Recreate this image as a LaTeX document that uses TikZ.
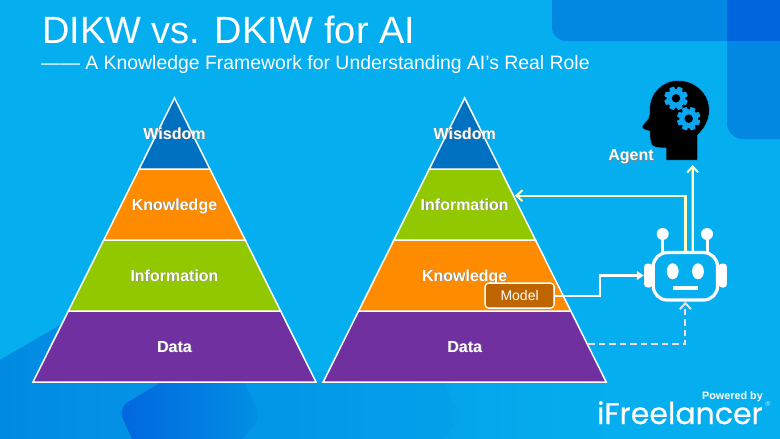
\documentclass[tikz,border=0pt]{standalone}
\usepackage{fontspec}
\setmainfont{Liberation Sans}
\newfontfamily\logofont[FakeBold=0.5]{Poppins}
\usetikzlibrary{arrows.meta,calc}
\definecolor{bgc}{HTML}{05AEEE}
\definecolor{panel}{HTML}{0288E2}
\definecolor{panelx}{HTML}{0066DE}
\definecolor{wis}{HTML}{0070C0}
\definecolor{kno}{HTML}{FF8C00}
\definecolor{inf}{HTML}{92C800}
\definecolor{dat}{HTML}{7030A0}
\definecolor{mod}{HTML}{BF6500}
\definecolor{pale}{HTML}{FFFFC4}
\definecolor{pinkish}{HTML}{FFD8D8}
\definecolor{gearc}{HTML}{0AA6F0}
\newcommand{\shadowed}[1]{\rlap{\hspace{0.7pt}\raisebox{-0.7pt}{\textcolor{black!50}{#1}}}#1}
\newcommand{\gearat}[2]{%
  \begin{scope}[shift={(#1,#2)}]
    \fill[gearc] (0,0) circle (9.4);
    \foreach \a in {0,45,...,315}{\fill[gearc,rotate=\a+22.5,rounded corners=0.8pt] (-2.7,7) rectangle (2.7,11.8);}
    \fill[black] (0,0) circle (4.2);
  \end{scope}}
\newcommand{\pyramid}[4]{%
  \begin{scope}[shift={(#1,0)}]
    \filldraw[layer,fill=dat] (-106.1,311) -- (106.1,311) -- (141.5,382) -- (-141.5,382) -- cycle;
    \filldraw[layer,fill=#4] (-70.75,240) -- (70.75,240) -- (106.1,311) -- (-106.1,311) -- cycle;
    \filldraw[layer,fill=#3] (-35.4,169) -- (35.4,169) -- (70.75,240) -- (-70.75,240) -- cycle;
    \filldraw[layer,fill=#2] (0,98) -- (35.4,169) -- (-35.4,169) -- cycle;
  \end{scope}}
\tikzset{
  layer/.style={draw=white,line width=1.5pt,line join=miter},
  lab/.style={font=\fontsize{16}{16}\selectfont\bfseries,text=white,inner sep=0pt,anchor=base},
  palearrow/.style={draw=pale,line width=2.3pt,-{Straight Barb[length=6pt,width=11pt,line width=2pt]}},
  whitearrow/.style={draw=white,line width=2.1pt,-{Triangle[length=7pt,width=8.5pt]}},
  pinkarrow/.style={draw=pinkish,line width=2.1pt,dash pattern=on 6.5pt off 4pt,-{Straight Barb[length=6pt,width=11pt,line width=2pt]}},
  ear/.style={fill=white,rounded corners=3.5pt,inner sep=0pt,minimum width=8.5pt,minimum height=24pt},
}
\begin{document}
\begin{tikzpicture}[x=1pt,y=-1pt]
\useasboundingbox (0,0) rectangle (780,439);
\begin{scope}
\clip (0,0) rectangle (780,439);
\fill[bgc] (0,0) rectangle (780,439);
% background panels
\shade[left color=panel!95!bgc,right color=bgc]
  (0,360) -- (60,325) -- (316,382) -- (610,382) -- (610,439) -- (0,439) -- cycle;
\fill[panel,opacity=.12,rounded corners=10pt] (200,372) -- (200,450) -- (435,450) -- (460,418) -- (440,372) -- cycle;
\shade[left color=panelx,right color=panel!80!bgc,rounded corners=11pt]
  (190,365) -- (118,408) -- (137,450) -- (232,450) -- (261,418) -- (240,372) -- cycle;
\fill[panel,rounded corners=14pt] (552,-30) rectangle (810,41);
\fill[panel,rounded corners=16pt] (727,-30) rectangle (810,139);
\fill[panelx] (727,-30) rectangle (810,41);
\end{scope}
% title
\node[inner sep=0pt,anchor=base west,text=white,font=\fontsize{38}{38}\selectfont] (title) at (42,43) {DIKW vs. DKIW for AI};
\node[inner sep=0pt,anchor=base west,text=white,font=\fontsize{19.4}{19.4}\selectfont] (subtitle) at (41,69.5) {—— A Knowledge Framework for Understanding AI’s Real Role};
% pyramids
\pyramid{174.5}{wis}{kno}{inf}
\pyramid{464.7}{wis}{inf}{kno}
\node[lab] (lw) at (174.5,139) {\shadowed{Wisdom}};
\node[lab] (lk) at (174.5,210) {\shadowed{Knowledge}};
\node[lab] (li) at (174.5,281) {\shadowed{Information}};
\node[lab] (ld) at (174.5,352) {\shadowed{Data}};
\node[lab] (rw) at (464.7,139) {\shadowed{Wisdom}};
\node[lab] (ri) at (464.7,210) {\shadowed{Information}};
\node[lab] (rk) at (464.7,281) {\shadowed{Knowledge}};
\node[lab] (rd) at (464.7,352) {\shadowed{Data}};
% anchors on pyramid edges
\coordinate (infoedge) at (515,195.7);
\coordinate (dataedge) at (588,343.7);
\coordinate (neck) at (692.7,165);
% model
\node[draw=white,fill=mod,line width=1.3pt,rounded corners=3.5pt,minimum width=69pt,minimum height=25pt,inner sep=0pt,text=white,font=\fontsize{14}{14}\selectfont] (model) at (519.6,295.6) {Model};
% agent head
\filldraw[fill=black,draw=gearc,line width=0.5pt] (666,160) -- (697.7,160) -- (697.7,135)
  .. controls (705,128) and (709.3,120) .. (709.3,110)
  .. controls (709.3,93) and (695,80.5) .. (678,80.5)
  .. controls (661,80.5) and (650,94) .. (649.6,108)
  .. controls (649.4,113) and (650,115) .. (648.5,118)
  .. controls (647,121) and (642,125) .. (642,127)
  .. controls (642,130) and (648,130) .. (650,131.5)
  .. controls (650,134) and (649.5,138) .. (651,143)
  .. controls (652,147) and (656,148) .. (666,148) -- cycle;
\gearat{676}{98.3}
\gearat{688.7}{118.7}
\node[lab] (agent) at (631,160.5) {\shadowed{Agent}};
% robot
\draw[white,line width=3pt] (662.7,234) -- (662.7,252);
\draw[white,line width=3pt] (707,234) -- (707,252);
\fill[white] (662.7,234) circle (6);
\fill[white] (707,234) circle (6);
\node[ear] (earL) at (648.3,275.5) {};
\node[ear] (earR) at (722.7,275.5) {};
\node[draw=white,fill=bgc,line width=3.2pt,rounded corners=14pt,minimum width=64.3pt,minimum height=47.5pt,inner sep=0pt] (robot) at (685.4,276.3) {};
\fill[white] (672.7,271.3) ellipse (5.9 and 8);
\fill[white] (698,271.3) ellipse (5.9 and 8);
\fill[white] (672.7,286) rectangle (698,289.8);
% connectors
\draw[palearrow] (robot.north) |- (infoedge);
\draw[palearrow] ([xshift=7.4pt]robot.north) -- (neck);
\draw[whitearrow] (model.east) -- ++(45,0) |- (earL.west);
\draw[pinkarrow] (dataedge) -| (robot.south);
% logo
\node[inner sep=0pt,anchor=base east,text=white,font=\fontsize{10.8}{10.8}\selectfont\bfseries] (powered) at (763,399) {Powered by};
\node[inner sep=0pt,anchor=base east,text=white,font=\fontsize{30}{30}\selectfont\logofont] (logo) at (763,424) {iFreelancer};
\node[inner sep=0pt,text=white!75!bgc,font=\fontsize{7}{7}\selectfont] (reg) at (768,404) {®};
\end{tikzpicture}
\end{document}
